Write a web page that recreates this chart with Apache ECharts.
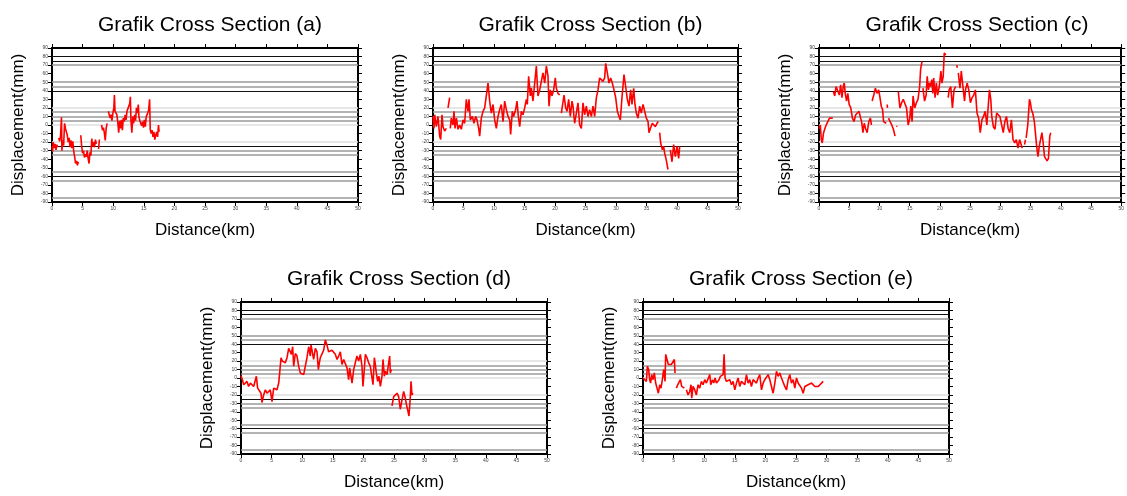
<!DOCTYPE html>
<html>
<head>
<meta charset="utf-8">
<script src="https://cdn.jsdelivr.net/npm/echarts@6/dist/echarts.min.js"></script>
<style>
  html, body { margin: 0; padding: 0; background: #fff; }
  #chart { width: 1127px; height: 496px; }
</style>
</head>
<body>
<div id="chart"></div>
<script>
// tick labels
const xTicks = [0, 50, 5];      // min, max, interval (km)
const yTicks = [-90, 90, 10];   // min, max, interval (mm)

// horizontal reference lines seen in every panel (mm)
const darkLevels = [80, 75, 40, -25, -60];
const greyLevels = [70, 50, 45, 15, 10, 5, -30, -35, -55, -65, -85];
const paleLevels = [20, 0, -20];

const panelNames = ['(a)', '(b)', '(c)', '(d)', '(e)'];

// [distance km, displacement mm]; null = gap in the profile
const crossA = [[0,-25],[0.1,-31],[0.2,-20],[0.35,-27],[0.5,-22],[0.65,-29],[0.8,-23],[0.9,-26],[1.0,null],
  [1.1,-15],[1.25,-19],[1.4,-12],[1.55,9],[1.62,-30],[1.75,-18],[1.9,-24],[2.05,2],[2.2,-4],[2.35,-8],[2.5,-12],
  [2.65,-20],[2.8,-15],[2.95,-26],[3.1,-18],[3.25,-27],[3.4,-19],[3.55,-31],[3.7,-37],[3.85,-45],[4.0,-42],
  [4.15,-47],[4.3,-43],[4.5,null],[4.7,-12],[4.85,-25],[5.0,-33],[5.15,-30],[5.3,-38],[5.45,-34],[5.6,-37],
  [5.75,-30],[5.9,-39],[6.05,-45],[6.2,-32],[6.35,-36],[6.5,-16],[6.65,-25],[6.8,-20],[6.95,-26],[7.1,-17],
  [7.25,-22],[7.4,null],[7.6,-28],[7.75,-17],[7.9,null],[8.1,0],[8.25,-6],[8.4,-3],[8.55,-9],[8.7,-18],[8.85,-4],
  [9.0,2],[9.1,null],[9.2,16],[9.35,18],[9.5,8],[9.65,12],[9.8,5],[9.95,14],[10.1,20],[10.2,35],[10.3,16],
  [10.45,18],[10.6,12],[10.75,3],[10.9,-9],[11.05,5],[11.2,-4],[11.35,6],[11.5,-6],[11.65,8],[11.8,4],[11.95,12],
  [12.1,6],[12.25,16],[12.4,14],[12.55,18],[12.7,25],[12.8,33],[12.9,6],[13.05,-9],[13.2,10],[13.35,2],[13.5,12],
  [13.65,5],[13.8,20],[13.95,14],[14.1,24],[14.2,10],[14.35,5],[14.5,7],[14.65,-1],[14.8,4],[14.95,-3],[15.1,6],
  [15.25,-2],[15.4,10],[15.6,13],[15.8,18],[15.95,30],[16.05,-5],[16.2,-10],[16.35,-6],[16.5,-14],[16.65,-8],
  [16.8,-17],[16.95,-12],[17.1,-8],[17.25,-14],[17.4,0],[17.5,-8],[17.7,null],[17.85,11],[17.95,11]];

const crossB = [[0,10],[0.16,-4],[0.27,12],[0.55,-2],[0.82,10],[1.09,-13],[1.26,-17],[1.48,12],[1.64,-2],[1.91,-7],
  [2.19,-4],[2.3,null],[2.46,20],[2.73,32],[2.8,null],[2.84,-4],[3.0,8],[3.28,0],[3.44,16],[3.61,-4],[3.83,8],[4.1,-5],
  [4.37,0],[4.64,-5],[4.92,6],[5.19,2],[5.46,30],[5.74,16],[5.9,30],[6.12,6],[6.45,10],[6.72,2],[6.99,10],[7.21,6],
  [7.49,-4],[7.65,-13],[7.92,8],[8.2,16],[8.47,20],[8.74,18],[9.02,49],[9.29,28],[9.56,14],[9.84,24],[10.11,6],
  [10.38,-4],[10.66,10],[10.93,18],[11.2,24],[11.48,4],[11.75,28],[12.02,18],[12.3,10],[12.57,6],[12.73,-11],
  [13.0,16],[13.22,10],[13.55,18],[13.77,28],[13.99,10],[14.21,-2],[14.48,16],[14.75,12],[15.03,20],[15.3,30],
  [15.46,24],[15.68,57],[15.96,34],[16.12,43],[16.39,28],[16.67,49],[16.94,69],[17.21,34],[17.49,41],[17.76,51],
  [18.03,61],[18.31,49],[18.58,69],[18.85,57],[19.02,22],[19.23,41],[19.51,34],[19.78,41],[20.05,55],[20.22,43],
  [20.49,37],[20.77,35],[20.9,null],[21.04,14],[21.31,12],[21.48,35],[21.75,20],[21.97,16],[22.24,30],[22.51,10],
  [22.79,28],[22.95,22],[23.22,2],[23.5,14],[23.77,26],[24.04,0],[24.32,-4],[24.59,26],[24.86,12],[25.14,22],
  [25.41,10],[25.68,18],[25.96,10],[26.23,22],[26.5,10],[26.78,32],[27.05,41],[27.32,55],[27.6,53],[27.87,51],
  [28.14,55],[28.31,72],[28.58,61],[28.85,49],[29.13,55],[29.4,49],[29.67,41],[29.95,32],[30.22,16],[30.49,10],
  [30.71,6],[30.98,32],[31.31,59],[31.58,45],[31.86,30],[32.13,22],[32.4,41],[32.62,24],[32.9,43],[33.11,24],
  [33.33,14],[33.61,8],[33.88,22],[34.15,14],[34.43,24],[34.7,16],[34.97,8],[35.25,4],[35.41,-9],[35.63,-4],
  [35.96,2],[36.23,4],[36.45,-2],[36.72,2],[36.94,4],[37.05,null],[37.16,-9],[37.32,-21],[37.6,-29],[37.81,-25],
  [37.98,-33],[38.25,-41],[38.52,-52],[38.7,null],[38.91,-29],[39.18,-43],[39.45,-23],[39.73,-37],[40.0,-25],
  [40.27,-39],[40.44,-25]];

const crossC = [[0,-4],[0.22,0],[0.38,-17],[0.54,-21],[0.76,-9],[0.98,-4],[1.19,0],[1.46,4],[1.74,8],[2.01,9],
  [2.28,8],[2.33,null],[2.39,39],[2.6,34],[2.82,45],[3.09,47],[3.36,35],[3.58,47],[3.8,32],[4.01,45],[4.18,49],
  [4.34,37],[4.56,28],[4.77,37],[4.99,24],[5.26,20],[5.53,8],[5.8,4],[6.07,12],[6.34,14],[6.62,16],[6.89,8],[7.05,4],
  [7.27,-9],[7.48,2],[7.7,-4],[7.97,-9],[8.24,4],[8.51,8],[8.68,0],[8.73,null],[8.79,28],[9.06,35],[9.33,43],
  [9.6,37],[9.87,41],[10.09,32],[10.3,22],[10.52,18],[10.68,4],[10.95,6],[11.12,2],[11.2,null],[11.28,24],
  [11.33,20],[11.4,null],[11.5,8],[11.77,4],[12.04,0],[12.31,-5],[12.58,-13],[12.7,null],[12.85,-1],[12.9,-2],
  [13.0,null],[13.12,39],[13.39,20],[13.67,26],[13.94,30],[14.21,32],[14.48,20],[14.75,0],[15.02,8],[15.18,22],
  [15.4,4],[15.56,34],[15.84,20],[16.11,26],[16.38,30],[16.65,45],[16.81,65],[17.03,74],[17.1,null],[17.2,43],
  [17.46,28],[17.73,35],[17.9,57],[18.11,41],[18.28,49],[18.44,45],[18.66,53],[18.82,37],[18.98,55],[19.2,32],
  [19.41,49],[19.63,35],[19.9,45],[20.17,63],[20.34,49],[20.55,57],[20.72,84],[20.99,82],[21.2,null],[21.37,32],
  [21.53,41],[21.8,45],[22.07,20],[22.34,41],[22.61,45],[22.7,null],[22.78,70],[22.89,67],[22.97,null],[23.05,61],
  [23.32,43],[23.54,63],[23.81,45],[24.08,28],[24.24,41],[24.51,49],[24.78,41],[25.05,26],[25.33,32],[25.6,35],
  [25.87,41],[26.14,14],[26.41,8],[26.68,-9],[26.95,6],[27.22,10],[27.49,16],[27.77,0],[28.04,2],[28.2,41],
  [28.42,30],[28.58,10],[28.85,-2],[29.12,-5],[29.39,14],[29.66,16],[29.93,10],[30.21,12],[30.48,-9],[30.75,4],
  [31.02,10],[31.29,-4],[31.56,-9],[31.83,6],[32.1,-17],[32.38,-21],[32.65,-17],[32.92,-27],[33.19,-17],
  [33.46,-23],[33.62,-27],[33.8,null],[34.0,-23],[34.16,-17],[34.21,null],[34.27,-15],[34.54,0],[34.82,30],
  [34.98,26],[35.14,18],[35.36,14],[35.63,4],[35.79,2],[36.01,-25],[36.23,-37],[36.44,-25],[36.71,-15],[36.88,-9],
  [37.09,-21],[37.31,-37],[37.53,-35],[37.74,-42],[37.96,-39],[38.18,-13],[38.34,-9]];

const crossD = [[0,3],[0.22,-2],[0.44,-8],[0.71,-10],[0.98,-4],[1.25,-10],[1.53,-6],[1.8,-8],[2.07,-10],[2.34,-12],
  [2.51,2],[2.72,-12],[3.0,-10],[3.27,-18],[3.43,-29],[3.7,-20],[3.98,-14],[4.25,-18],[4.52,-16],[4.79,-14],
  [5.07,-28],[5.34,-12],[5.61,-10],[5.88,-14],[6.16,-6],[6.32,6],[6.54,24],[6.75,20],[6.97,22],[7.24,18],[7.52,24],
  [7.79,35],[8.06,31],[8.22,28],[8.44,37],[8.61,14],[8.88,29],[9.15,26],[9.42,14],[9.69,6],[9.97,4],[10.24,4],
  [10.51,14],[10.78,24],[11.06,37],[11.33,26],[11.44,39],[11.6,33],[11.87,22],[12.15,35],[12.42,31],[12.64,10],
  [12.8,18],[12.96,24],[13.24,26],[13.51,33],[13.78,45],[14.05,39],[14.32,31],[14.6,29],[14.87,33],[15.14,31],
  [15.41,28],[15.69,22],[15.96,26],[16.23,31],[16.5,16],[16.78,22],[17.05,24],[17.32,12],[17.59,-2],[17.76,12],
  [17.97,14],[18.14,-6],[18.41,10],[18.68,18],[18.95,26],[19.23,20],[19.5,28],[19.77,14],[19.93,-10],[20.15,10],
  [20.32,28],[20.59,24],[20.86,18],[21.13,14],[21.41,0],[21.57,-8],[21.79,24],[21.95,16],[22.11,6],[22.33,-4],
  [22.55,2],[22.77,-10],[23.04,2],[23.2,22],[23.42,2],[23.58,8],[23.86,4],[24.13,4],[24.29,26],[24.4,6],[24.56,10],
  [24.62,null],[24.67,-33],[24.95,-22],[25.22,-20],[25.49,-18],[25.76,-22],[26.03,-37],[26.31,-26],[26.58,-16],
  [26.85,-24],[27.02,-31],[27.23,-33],[27.45,-45],[27.67,-22],[27.78,-4],[27.94,-20],[28.1,-18]];

const crossE = [[0,0],[0.27,2],[0.55,-4],[0.71,14],[0.93,10],[1.09,-2],[1.25,-6],[1.42,4],[1.64,-2],[1.85,6],
  [2.07,-6],[2.29,-12],[2.51,-18],[2.73,-8],[2.94,-12],[3.16,-2],[3.38,10],[3.6,-4],[3.71,28],[3.93,26],[4.14,16],
  [4.36,14],[4.63,16],[4.91,14],[5.13,22],[5.23,6],[5.33,null],[5.45,-12],[5.67,-8],[5.89,-10],[6.11,-2],[6.32,-10],
  [6.54,-8],[6.76,-12],[6.9,null],[7.09,-14],[7.36,-20],[7.63,-16],[7.85,-8],[7.96,-24],[8.18,-10],[8.45,-14],
  [8.72,-20],[9.0,-8],[9.27,-12],[9.54,-4],[9.81,-8],[10.09,-2],[10.36,-6],[10.63,-4],[10.91,4],[11.07,-8],
  [11.34,-2],[11.56,-6],[11.78,0],[12.0,-6],[12.21,-8],[12.43,-2],[12.65,2],[12.87,4],[13.09,4],[13.25,28],
  [13.41,0],[13.63,-4],[13.9,-6],[14.18,-2],[14.45,-8],[14.72,-4],[15.0,-14],[15.27,-6],[15.54,0],[15.81,-10],
  [16.09,-4],[16.36,-2],[16.63,-8],[16.9,4],[17.18,-6],[17.45,-2],[17.72,-10],[17.99,-2],[18.27,-4],[18.54,-6],
  [18.81,0],[19.08,4],[19.36,-14],[19.63,-6],[19.9,-2],[20.17,0],[20.45,4],[20.72,-2],[20.99,-10],[21.26,-18],
  [21.54,-6],[21.81,8],[22.08,2],[22.36,6],[22.63,0],[22.9,-2],[23.17,-10],[23.45,-14],[23.72,-2],[23.99,4],
  [24.26,-6],[24.54,-2],[24.81,-12],[25.08,0],[25.35,-6],[25.63,-4],[25.9,-12],[26.17,-18],[26.44,-10],[26.72,-12],
  [26.99,-8],[27.26,-10],[27.54,-6],[27.81,-8],[28.08,-10],[28.35,-12],[28.63,-10],[28.9,-8],[29.17,-6],[29.44,-4]];

const profiles = [crossA, crossB, crossC, crossD, crossE];

// panel boxes (px)
const boxes = [
  { left: 52,  top: 48,  width: 306, height: 154 },
  { left: 433, top: 48,  width: 305, height: 154 },
  { left: 819, top: 48,  width: 306, height: 154 },
  { left: 241, top: 302, width: 306, height: 152 },
  { left: 643, top: 302, width: 306, height: 152 }
];

const font = 'Liberation Sans, Arial, sans-serif';
const tickLabel = { fontSize: 5, color: '#444', fontFamily: font, margin: 4 };
const frame = { show: true, onZero: false, lineStyle: { color: '#000', width: 2 } };
const tick = { show: true, inside: false, length: 4, lineStyle: { color: '#000', width: 1 } };

const refLines = [];
darkLevels.forEach(v => refLines.push({ yAxis: v, lineStyle: { color: '#111', width: 1.2, type: 'solid' } }));
greyLevels.forEach(v => refLines.push({ yAxis: v, lineStyle: { color: '#9a9a9a', width: 1.5, type: 'solid' } }));
paleLevels.forEach(v => refLines.push({ yAxis: v, lineStyle: { color: '#dedede', width: 1.5, type: 'solid' } }));

const option = { animation: false, title: [], grid: [], xAxis: [], yAxis: [], series: [] };

boxes.forEach((b, i) => {
  option.grid.push(Object.assign({ containLabel: false }, b));
  option.title.push({
    text: 'Grafik Cross Section ' + panelNames[i],
    left: b.left + b.width / 2,
    top: b.top - 38,
    textAlign: 'center',
    textStyle: { fontSize: 21, fontWeight: 'normal', color: '#000', fontFamily: font }
  });
  // bottom + top x axes
  option.xAxis.push({
    type: 'value', gridIndex: i, min: xTicks[0], max: xTicks[1], interval: xTicks[2],
    name: 'Distance(km)', nameLocation: 'middle', nameGap: 20,
    nameTextStyle: { fontSize: 17, color: '#000', fontFamily: font, verticalAlign: 'top' },
    axisLine: frame, axisTick: tick, axisLabel: tickLabel, splitLine: { show: false }
  });
  option.xAxis.push({
    type: 'value', gridIndex: i, position: 'top', min: xTicks[0], max: xTicks[1], interval: xTicks[2],
    axisLine: frame, axisTick: tick, axisLabel: { show: false }, splitLine: { show: false }
  });
  // left + right y axes
  option.yAxis.push({
    type: 'value', gridIndex: i, min: yTicks[0], max: yTicks[1], interval: yTicks[2],
    name: 'Displacement(mm)', nameLocation: 'middle', nameGap: 25,
    nameTextStyle: { fontSize: 17, color: '#000', fontFamily: font },
    axisLine: frame, axisTick: tick, axisLabel: tickLabel, splitLine: { show: false }
  });
  option.yAxis.push({
    type: 'value', gridIndex: i, position: 'right', min: yTicks[0], max: yTicks[1], interval: yTicks[2],
    axisLine: frame, axisTick: tick, axisLabel: { show: false }, splitLine: { show: false }
  });

  option.series.push({
    type: 'line',
    xAxisIndex: i * 2,
    yAxisIndex: i * 2,
    data: profiles[i],
    showSymbol: false,
    connectNulls: false,
    lineStyle: { color: '#ff0000', width: 1.6 },
    z: 5,
    markLine: {
      silent: true,
      symbol: 'none',
      label: { show: false },
      z: 1,
      data: refLines
    }
  });
});

const chart = echarts.init(document.getElementById('chart'), null, { renderer: 'canvas' });
chart.setOption(option);
</script>
</body>
</html>
